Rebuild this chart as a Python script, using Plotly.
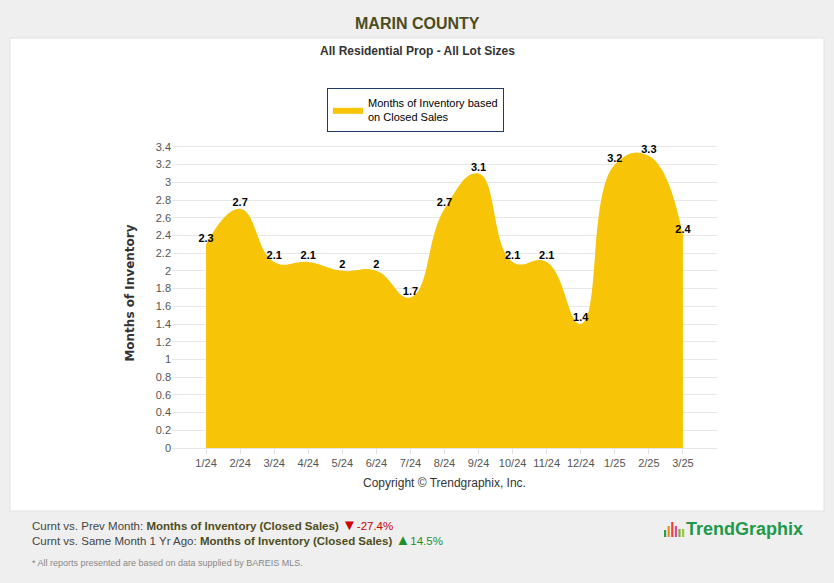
import plotly.graph_objects as go

# Months of inventory, Marin County, all residential
months = ["1/24", "2/24", "3/24", "4/24", "5/24", "6/24", "7/24", "8/24",
          "9/24", "10/24", "11/24", "12/24", "1/25", "2/25", "3/25"]
inventory = [2.3, 2.7, 2.1, 2.1, 2, 2, 1.7, 2.7, 3.1, 2.1, 2.1, 1.4, 3.2, 3.3, 2.4]
y_ticks = [0, 0.2, 0.4, 0.6, 0.8, 1, 1.2, 1.4, 1.6, 1.8, 2, 2.2, 2.4, 2.6, 2.8, 3, 3.2, 3.4]

prev_month_chg = "-27.4%"
yoy_chg = "14.5%"

FONT = "Liberation Sans, Arial"
GOLD = "#f7c408"

# plot area is 172..717 px wide, 138..448 px tall; helpers to place page items
def px_x(p):
    return (p - 172) / 545

def px_y(p):
    return (448 - p) / 310

fig = go.Figure()
fig.add_trace(go.Scatter(
    x=months, y=inventory,
    mode="lines+text",
    line=dict(shape="spline", smoothing=1.3, width=0, color=GOLD),
    fill="tozeroy", fillcolor=GOLD,
    text=[f"{v:g}" for v in inventory],
    textposition="top center",
    textfont=dict(family=FONT, size=11, color="#000000", weight="bold"),
    name="Months of Inventory based<br>on Closed Sales",
    showlegend=True,
    cliponaxis=False,
))

# white panel behind chart
fig.add_shape(type="rect", xref="paper", yref="paper",
              x0=px_x(10), x1=px_x(824), y0=px_y(511), y1=px_y(38),
              fillcolor="white", line=dict(color="#e2e2e2", width=1), layer="below")

fig.update_layout(
    width=834, height=583,
    margin=dict(l=172, r=117, t=138, b=135),
    paper_bgcolor="#efefef",
    plot_bgcolor="rgba(0,0,0,0)",
    font=dict(family=FONT, size=11, color="#555555"),
    showlegend=True,
    legend=dict(x=px_x(327), y=px_y(88), xanchor="left", yanchor="top",
                bgcolor="white", bordercolor="#1f3a6a", borderwidth=1,
                font=dict(family=FONT, size=11, color="#000000"),
                itemsizing="constant", tracegroupgap=0),
    xaxis=dict(
        type="category", range=[-1, 15],
        showgrid=False, showline=True, linecolor="#e6e6e6",
        ticks="outside", ticklen=5, tickcolor="#e0e0e0",
        tickfont=dict(family=FONT, size=11, color="#555555"),
        title=dict(text="Copyright © Trendgraphix, Inc.",
                   font=dict(family=FONT, size=12, color="#333333"), standoff=10),
    ),
    yaxis=dict(
        range=[0, 3.5], tickvals=y_ticks, ticktext=[f"{v:g}" for v in y_ticks],
        showgrid=True, gridcolor="#e8e8e8", zeroline=False,
        ticks="", tickfont=dict(family=FONT, size=11, color="#555555"),
        title=dict(text="Months of Inventory",
                   font=dict(family="DejaVu Sans", size=12, color="#333333", weight="bold"),
                   standoff=18),
    ),
)

fig.add_annotation(text="<b>MARIN COUNTY</b>", xref="paper", yref="paper",
                   x=px_x(417), y=px_y(23), xanchor="center", yanchor="middle", showarrow=False,
                   font=dict(family=FONT, size=16, color="#4d4d1c"))
fig.add_annotation(text="<b>All Residential Prop - All Lot Sizes</b>", xref="paper", yref="paper",
                   x=px_x(417), y=px_y(51), xanchor="center", yanchor="middle", showarrow=False,
                   font=dict(family=FONT, size=12, color="#333333"))

fig.add_annotation(
    text=("Curnt vs. Prev Month: <b><span style='color:#4d4d1c'>Months of Inventory (Closed Sales)</span></b> "
          f"<span style='color:#cc0000'><span style='font-size:15px'>▼</span>{prev_month_chg}</span>"),
    xref="paper", yref="paper", x=px_x(30), y=px_y(524), xanchor="left", yanchor="middle",
    showarrow=False, font=dict(family=FONT, size=11.5, color="#444444"))
fig.add_annotation(
    text=("Curnt vs. Same Month 1 Yr Ago: <b><span style='color:#4d4d1c'>Months of Inventory (Closed Sales)</span></b> "
          f"<span style='color:#1f8f2a'><span style='font-size:15px'>▲</span>{yoy_chg}</span>"),
    xref="paper", yref="paper", x=px_x(30), y=px_y(539), xanchor="left", yanchor="middle",
    showarrow=False, font=dict(family=FONT, size=11.5, color="#444444"))
fig.add_annotation(
    text="* All reports presented are based on data supplied by BAREIS MLS.",
    xref="paper", yref="paper", x=px_x(30), y=px_y(563), xanchor="left", yanchor="middle",
    showarrow=False, font=dict(family=FONT, size=9, color="#888888"))

# logo
fig.add_annotation(text="<b>TrendGraphix</b>", xref="paper", yref="paper",
                   x=px_x(805), y=px_y(529), xanchor="right", yanchor="middle", showarrow=False,
                   font=dict(family=FONT, size=18, color="#1e9a4a"))
bar_cols = ["#2e9c4a", "#f08a1c", "#e4453a", "#e0469a", "#6db33f", "#9ac43c"]
bar_h = [7, 11, 15, 11, 8, 8]
for i, (c, h) in enumerate(zip(bar_cols, bar_h)):
    x0 = 664 + i * 3.6
    fig.add_shape(type="rect", xref="paper", yref="paper",
                  x0=px_x(x0), x1=px_x(x0 + 2.2),
                  y0=px_y(537), y1=px_y(537 - h),
                  fillcolor=c, line=dict(width=0))

fig.write_html("out.html", config={"displayModeBar": False},
               post_script="document.body.style.margin='0';")
